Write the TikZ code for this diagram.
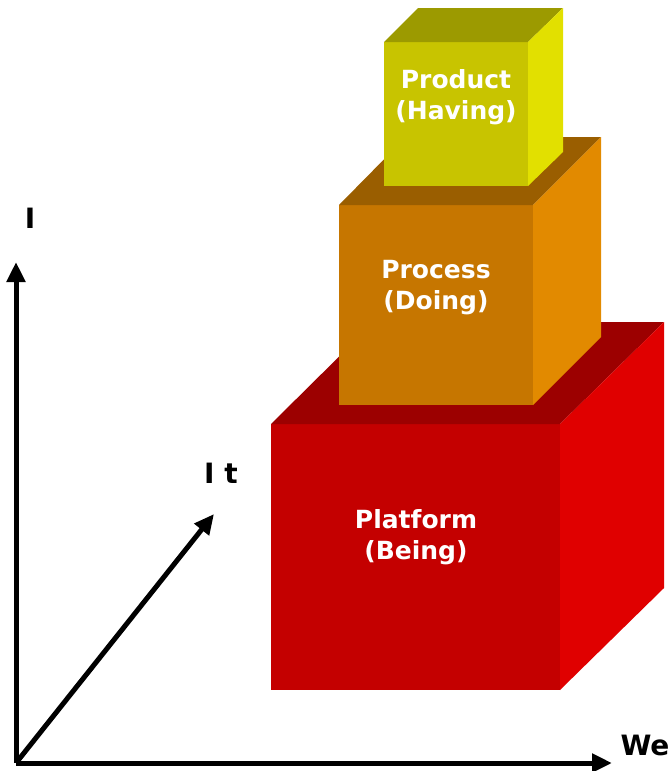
\documentclass[tikz,border=0pt]{standalone}
\usepackage{fontspec}
\setmainfont{DejaVu Sans}
\usetikzlibrary{arrows.meta}

\definecolor{platfront}{HTML}{C40000}
\definecolor{plattop}{HTML}{9C0000}
\definecolor{platside}{HTML}{E00000}
\definecolor{procfront}{HTML}{C67600}
\definecolor{proctop}{HTML}{9A5E00}
\definecolor{procside}{HTML}{E28A00}
\definecolor{prodfront}{HTML}{C8C400}
\definecolor{prodtop}{HTML}{9C9A00}
\definecolor{prodside}{HTML}{E2E000}

\begin{document}
\begin{tikzpicture}[x=1pt, y=-1pt]
	\useasboundingbox (0,0) rectangle (671,771);
	
	% PLATFORM
	\fill[platfront] (271,424) rectangle (560,690);
	\fill[plattop] (271,424) -- (374,322) -- (664,322) -- (560,424) -- cycle;
	\fill[platside] (560,424) -- (664,322) -- (664,588) -- (560,690) -- cycle;
	
	% PROCESS
	\fill[procfront] (339,205) rectangle (533,405);
	\fill[proctop] (339,205) -- (406,137) -- (601,137) -- (533,205) -- cycle;
	\fill[procside] (533,205) -- (601,137) -- (601,337) -- (533,405) -- cycle;
	
	% PRODUCT
	\fill[prodfront] (384,42) rectangle (528,186);
	\fill[prodtop] (384,42) -- (418,8) -- (563,8) -- (528,42) -- cycle;
	\fill[prodside] (528,42) -- (563,8) -- (563,152) -- (528,186) -- cycle;
	
	% LABELS
	\tikzstyle{every node}=[align=center, text=white, font=\fontsize{25}{31}\selectfont\bfseries]
	\path (456,97) node (product) {Product\\(Having)};
	\path (436,288) node (process) {Process\\(Doing)};
	\path (416,537) node (platform) {Platform\\(Being)};
	
	% AXES
	\tikzstyle{every node}=[text=black, font=\fontsize{28}{32}\selectfont\bfseries]
	\coordinate (o) at (16,763);
	\coordinate (iend) at (16,262);
	\coordinate (weend) at (612,763);
	\coordinate (itend) at (214,514);
	\draw[line width=5pt, -{Triangle[length=20pt,width=18pt]}] (o) -- (iend);
	\draw[line width=5pt, -{Triangle[length=20pt,width=18pt]}] (o) -- (weend);
	\draw[line width=5pt, -{Triangle[length=20pt,width=18pt]}] (o) -- (itend);
	\path (30,218) node (ilabel) {I};
	\path (221,473) node (itlabel) {I t};
	\path (645,745) node (welabel) {We};
	
\end{tikzpicture}
\end{document}
